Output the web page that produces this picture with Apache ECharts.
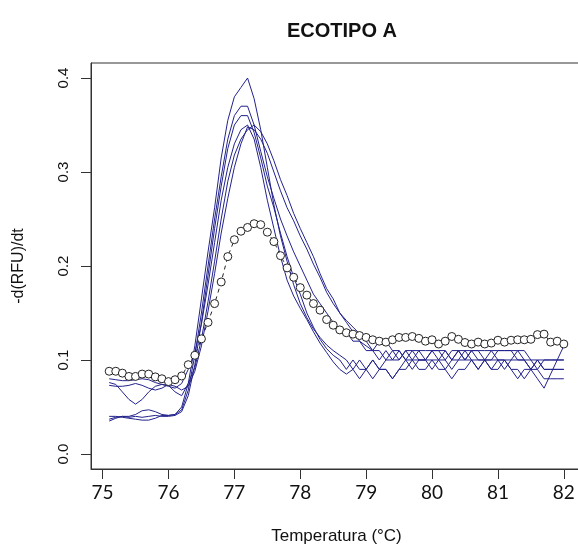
<!DOCTYPE html>
<html>
<head>
<meta charset="utf-8">
<script src="https://cdn.jsdelivr.net/npm/echarts@6/dist/echarts.min.js"></script>
<style>html,body{margin:0;padding:0;background:#fff}#c{width:578px;height:547px}</style>
</head>
<body>
<div id="c"></div>
<script>
var temps = [75.1,75.2,75.3,75.4,75.5,75.6,75.7,75.8,75.9,
76.0,76.1,76.2,76.3,76.4,76.5,76.6,76.7,76.8,76.9,
77.0,77.1,77.2,77.3,77.4,77.5,77.6,77.7,77.8,77.9,
78.0,78.1,78.2,78.3,78.4,78.5,78.6,78.7,78.8,78.9,
79.0,79.1,79.2,79.3,79.4,79.5,79.6,79.7,79.8,79.9,
80.0,80.1,80.2,80.3,80.4,80.5,80.6,80.7,80.8,80.9,
81.0,81.1,81.2,81.3,81.4,81.5,81.6,81.7,81.8,81.9,82.0];

var xTicks = [75,76,77,78,79,80,81,82];
var yTicks = [0,0.1,0.2,0.3,0.4];

var circles = [0.088,0.088,0.086,0.0825,0.0825,0.085,0.085,0.082,0.080,
0.077,0.079,0.083,0.095,0.105,0.1225,0.140,0.160,0.183,0.210,
0.228,0.237,0.241,0.245,0.244,0.236,0.226,0.211,0.198,0.188,
0.177,0.169,0.160,0.153,0.143,0.137,0.132,0.129,0.1275,0.126,
0.124,0.1215,0.120,0.119,0.1215,0.124,0.124,0.125,0.123,0.120,
0.1215,0.117,0.120,0.125,0.122,0.1186,0.117,0.119,0.117,0.118,
0.121,0.119,0.121,0.1215,0.1215,0.122,0.127,0.1275,0.119,0.120,0.117];

var line1 = [0.037,0.039,0.040,0.040,0.042,0.046,0.047,0.045,0.042,
0.041,0.042,0.050,0.075,0.115,0.165,0.215,0.262,0.315,0.355,
0.380,0.390,0.400,0.378,0.345,0.305,0.265,0.232,0.205,0.180,
0.160,0.145,0.133,0.124,0.116,0.110,0.105,0.100,0.090,0.100,
0.090,0.100,0.090,0.100,0.100,0.110,0.100,0.100,0.110,0.100,
0.100,0.100,0.090,0.100,0.110,0.100,0.110,0.100,0.100,0.100,
0.100,0.090,0.100,0.100,0.100,0.090,0.100,0.100,0.100,0.100,0.100];

var line2 = [0.040,0.040,0.039,0.038,0.037,0.036,0.036,0.038,0.041,
0.041,0.042,0.047,0.068,0.105,0.150,0.200,0.250,0.295,0.335,
0.360,0.370,0.370,0.350,0.322,0.295,0.272,0.250,0.232,0.215,
0.200,0.185,0.170,0.160,0.150,0.140,0.130,0.130,0.120,0.120,
0.110,0.110,0.120,0.120,0.110,0.110,0.100,0.110,0.110,0.110,
0.110,0.110,0.100,0.110,0.110,0.100,0.110,0.110,0.110,0.110,
0.110,0.110,0.110,0.110,0.110,0.100,0.100,0.090,0.090,0.090,0.090];

var line3 = [0.035,0.038,0.040,0.039,0.040,0.039,0.040,0.041,0.040,
0.040,0.041,0.045,0.062,0.095,0.140,0.190,0.240,0.285,0.325,
0.350,0.360,0.360,0.342,0.315,0.285,0.262,0.235,0.210,0.188,
0.170,0.150,0.135,0.122,0.112,0.105,0.100,0.090,0.100,0.090,
0.090,0.100,0.090,0.090,0.080,0.090,0.090,0.100,0.090,0.090,
0.100,0.090,0.090,0.080,0.090,0.090,0.100,0.090,0.100,0.090,
0.090,0.100,0.090,0.080,0.090,0.090,0.090,0.080,0.080,0.080,0.080];

var line4 = [0.080,0.079,0.078,0.078,0.079,0.080,0.079,0.076,0.074,
0.072,0.070,0.075,0.090,0.108,0.138,0.180,0.225,0.270,0.305,
0.330,0.345,0.350,0.335,0.305,0.270,0.240,0.210,0.185,0.168,
0.155,0.143,0.130,0.118,0.108,0.098,0.090,0.085,0.090,0.080,
0.090,0.080,0.090,0.090,0.080,0.090,0.100,0.090,0.100,0.100,
0.090,0.100,0.100,0.090,0.100,0.100,0.100,0.090,0.100,0.090,
0.100,0.100,0.090,0.090,0.080,0.090,0.080,0.070,0.085,0.100,0.115];

var line5 = [0.076,0.074,0.066,0.058,0.053,0.058,0.066,0.072,0.074,
0.073,0.066,0.062,0.075,0.092,0.122,0.162,0.205,0.250,0.290,
0.318,0.335,0.345,0.350,0.343,0.330,0.312,0.292,0.275,0.256,
0.240,0.225,0.210,0.192,0.176,0.165,0.150,0.140,0.130,0.120,
0.115,0.110,0.100,0.110,0.100,0.100,0.110,0.100,0.100,0.100,
0.110,0.100,0.110,0.100,0.100,0.110,0.100,0.100,0.100,0.110,
0.100,0.100,0.100,0.110,0.100,0.100,0.090,0.100,0.100,0.100,0.100];

var line6 = [0.073,0.072,0.072,0.073,0.075,0.073,0.070,0.068,0.070,
0.074,0.072,0.068,0.072,0.088,0.115,0.152,0.192,0.235,0.272,
0.305,0.330,0.348,0.345,0.335,0.320,0.300,0.280,0.262,0.248,
0.232,0.218,0.202,0.188,0.172,0.160,0.150,0.142,0.135,0.128,
0.120,0.110,0.110,0.100,0.110,0.100,0.110,0.110,0.100,0.100,
0.110,0.110,0.110,0.100,0.110,0.110,0.110,0.110,0.100,0.100,
0.110,0.110,0.110,0.100,0.100,0.090,0.100,0.090,0.090,0.090,0.090];

var blueLines = [line1, line2, line3, line4, line5, line6];

function pairs(vals) { return temps.map(function (t, i) { return [t, vals[i]]; }); }

var BLUE = '#22228c';
var series = [{
  type: 'line',
  data: pairs(circles),
  symbol: 'circle',
  symbolSize: 8,
  showAllSymbol: true,
  itemStyle: { color: '#fff', borderColor: '#222', borderWidth: 1 },
  lineStyle: { color: '#222', width: 1, type: [4, 4] },
  silent: true
}];
blueLines.forEach(function (vals) {
  series.push({
    type: 'line',
    data: pairs(vals),
    symbol: 'none',
    lineStyle: { color: BLUE, width: 1 },
    silent: true
  });
});

var chart = echarts.init(document.getElementById('c'), null, { renderer: 'canvas' });
chart.setOption({
  animation: false,
  backgroundColor: '#fff',
  title: {
    text: 'ECOTIPO A',
    left: 337,
    textAlign: 'center',
    top: 16,
    textStyle: { fontFamily: 'Liberation Sans', fontWeight: 'bold', fontSize: 20, color: '#111' }
  },
  grid: {
    left: 91, top: 63, width: 491, height: 406,
    show: true, borderColor: '#333', borderWidth: 1,
    containLabel: false, outerBoundsMode: 'none'
  },
  xAxis: {
    type: 'value', min: 74.824, max: 82.276,
    axisLine: { show: true, onZero: false, lineStyle: { color: '#333', width: 1 } },
    splitLine: { show: false },
    axisTick: { show: true, inside: false, length: 10, customValues: xTicks, lineStyle: { color: '#333' } },
    axisLabel: { customValues: xTicks, margin: 14, fontFamily: 'Lato', fontSize: 19, color: '#111' },
    name: 'Temperatura (°C)', nameLocation: 'middle', nameGap: 59,
    nameTextStyle: { fontFamily: 'Liberation Sans', fontSize: 17, color: '#111' }
  },
  yAxis: {
    type: 'value', min: -0.016, max: 0.416,
    axisLine: { show: true, onZero: false, lineStyle: { color: '#333', width: 1 } },
    splitLine: { show: false },
    axisTick: { show: true, inside: false, length: 10, customValues: yTicks, lineStyle: { color: '#333' } },
    axisLabel: { customValues: yTicks, rotate: 90, margin: 20, fontFamily: 'Liberation Sans', fontSize: 15, color: '#111',
      formatter: function (v) { return v.toFixed(1); } },
    name: '-d(RFU)/dt', nameLocation: 'middle', nameGap: 64,
    nameTextStyle: { fontFamily: 'Liberation Sans', fontSize: 16, color: '#111' }
  },
  series: series
});
</script>
</body>
</html>
